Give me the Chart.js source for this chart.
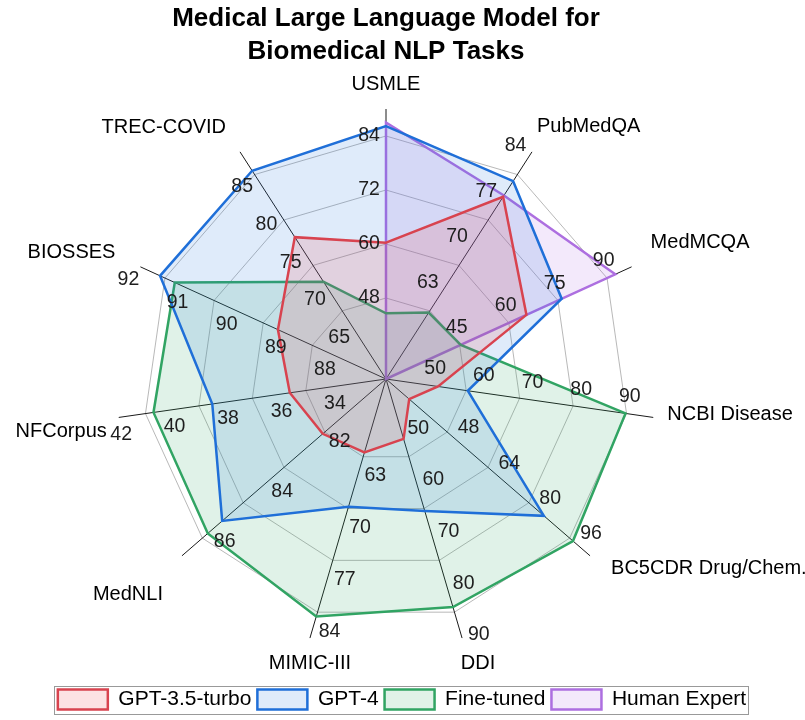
<!DOCTYPE html>
<html lang="en">
<head>
<meta charset="UTF-8">
<title>Medical Large Language Model for Biomedical NLP Tasks</title>
<script src="https://cdn.jsdelivr.net/npm/chart.js@4.4.1/dist/chart.umd.min.js"></script>
<style>
    html, body { margin: 0; padding: 0; background: #fff; }
    .wrap { width: 805px; height: 720px; }
</style>
</head>
<body>
<div class="wrap"><canvas id="radar" width="805" height="720"></canvas></div>
<script>
// ---- data -------------------------------------------------------------
const categories = ['USMLE', 'PubMedQA', 'MedMCQA', 'NCBI Disease', 'BC5CDR Drug/Chem.',
    'DDI', 'MIMIC-III', 'MedNLI', 'NFCorpus', 'BIOSSES', 'TREC-COVID'];

// every spoke has its own value range (value at centre / value at spoke end)
const axisMin = [30, 49.6, 21.2, 40.4, 20, 39.5, 50.6, 80, 32, 86.9, 58.3];
const axisMax = [90, 84.5, 96.4, 95.3, 100, 89.7, 85.5, 87.1, 42, 91.9, 88.4];

const axisTicks = [
    [48, 60, 72, 84],
    [63, 70, 77, 84],
    [45, 60, 75, 90],
    [50, 60, 70, 80, 90],
    [48, 64, 80, 96],
    [50, 60, 70, 80, 90],
    [63, 70, 77, 84],
    [82, 84, 86],
    [34, 36, 38, 40, 42],
    [88, 89, 90, 91, 92],
    [65, 70, 75, 80, 85]
];

const gpt35       = [60.3, 77.6, 64.2, 51.1, 29.1, 51.1, 60.5, 82.2, 35.6, 89.1, 77.1];
const gpt4        = [86.2, 80.0, 75.0, 57.2, 81.9, 65.1, 67.8, 85.7, 38.5, 91.5, 85.9];
const fineTuned   = [44.6, 59.8, 44.1, 89.6, 93.3, 83.7, 82.6, 86.2, 40.7, 91.2, 71.2];
// no human baseline for the other tasks
const humanExpert = [87.0, 77.8, 91.4, null, null, null, null, null, null, null, null];

const seriesNames = ['GPT-3.5-turbo', 'GPT-4', 'Fine-tuned', 'Human Expert'];
const seriesValues = [gpt35, gpt4, fineTuned, humanExpert];

// ---- styling ------------------------------------------------------------
const lineColors = ['#d8434f', '#1f6fd8', '#31a463', '#ad6fe0'];
const fillColors = ['rgba(235,60,70,0.15)', 'rgba(40,120,220,0.15)',
    'rgba(50,170,100,0.15)', 'rgba(175,110,225,0.15)'];

const FONT = '"Liberation Sans", Arial, sans-serif';
const tickGap = 17;

// category name placement relative to the end of its spoke: [dx, dy, align]
const labelNudge = [
    [0, -25, 'center'],
    [5, -25, 'left'],
    [19, -24, 'left'],
    [14, -3, 'left'],
    [21, 13, 'left'],
    [16, 25, 'center'],
    [0, 25, 'center'],
    [-19, 39, 'right'],
    [-12, 14, 'right'],
    [-25, -14, 'right'],
    [-14, -24, 'right']
];

Chart.defaults.font.family = FONT;

// map a value onto the 0..1 radius of its own spoke
function toFrac(v, i) {
    if (v === null) return 0;
    return (v - axisMin[i]) / (axisMax[i] - axisMin[i]);
}

// per-spoke tick numbers and category names
const axisText = {
    id: 'axisText',
    afterDatasetsDraw(chart) {
        const r = chart.scales.r;
        const ctx = chart.ctx;
        ctx.save();
        ctx.textBaseline = 'middle';

        ctx.font = '19.5px ' + FONT;
        ctx.fillStyle = '#1e1e1e';
        ctx.textAlign = 'center';
        axisTicks.forEach((ticks, i) => {
            ticks.forEach(t => {
                const p = r.getPointPositionForValue(i, toFrac(t, i));
                const ux = Math.cos(p.angle), uy = Math.sin(p.angle);
                ctx.fillText(String(t), p.x + uy * tickGap, p.y - ux * tickGap);
            });
        });

        ctx.font = '20px ' + FONT;
        ctx.fillStyle = '#000';
        categories.forEach((name, i) => {
            const end = r.getPointPositionForValue(i, 1);
            const [dx, dy, align] = labelNudge[i];
            ctx.textAlign = align;
            ctx.fillText(name, end.x + dx, end.y + dy);
        });
        ctx.restore();
    }
};

// legend sits centred on the page, with a thin frame round it
const legendFrame = {
    id: 'legendFrame',
    afterLayout(chart) {
        chart.legend.left += 16;
        chart.legend.right += 16;
    },
    afterDraw(chart) {
        const boxes = chart.legend.legendHitBoxes;
        if (!boxes || !boxes.length) return;
        let l = Infinity, t = Infinity, rr = -Infinity, b = -Infinity;
        boxes.forEach(h => {
            l = Math.min(l, h.left);
            t = Math.min(t, h.top);
            rr = Math.max(rr, h.left + h.width);
            b = Math.max(b, h.top + h.height);
        });
        const ctx = chart.ctx;
        ctx.save();
        ctx.strokeStyle = '#999';
        ctx.lineWidth = 1;
        ctx.strokeRect(Math.round(l - 4) + 0.5, Math.round(t - 3) + 0.5,
            Math.round(rr - l + 6), Math.round(b - t + 7));
        ctx.restore();
    }
};

new Chart(document.getElementById('radar'), {
    type: 'radar',
    data: {
        labels: categories,
        datasets: seriesNames.map((name, k) => ({
            label: name,
            data: seriesValues[k].map((v, i) => toFrac(v, i)),
            borderColor: lineColors[k],
            backgroundColor: fillColors[k],
            borderWidth: 2.5,
            fill: true,
            pointRadius: 0,
            pointHoverRadius: 0
        }))
    },
    options: {
        responsive: false,
        animation: false,
        layout: { padding: { right: 33 } },
        elements: { line: { tension: 0 } },
        scales: {
            r: {
                min: 0,
                max: 1,
                afterBuildTicks: s => {
                    s.ticks = [0, 0.3, 0.5, 0.7, 0.9].map(v => ({ value: v }));
                },
                ticks: { display: false },
                grid: { color: '#a6a6a6', lineWidth: 0.8 },
                angleLines: { color: '#1a1a1a', lineWidth: 1 },
                pointLabels: { display: false }
            }
        },
        plugins: {
            title: {
                display: true,
                text: ['Medical Large Language Model for', 'Biomedical NLP Tasks'],
                color: '#000',
                font: { size: 26, weight: 'bold', lineHeight: 1.25 },
                padding: { top: 3, bottom: 41 }
            },
            legend: {
                position: 'bottom',
                title: { display: true, text: '', font: { size: 10 }, padding: { top: 21, bottom: 0 } },
                labels: {
                    boxWidth: 50,
                    boxHeight: 20,
                    padding: 6,
                    color: '#000',
                    font: { size: 21 }
                }
            },
            tooltip: { enabled: false }
        }
    },
    plugins: [axisText, legendFrame]
});
</script>
</body>
</html>
